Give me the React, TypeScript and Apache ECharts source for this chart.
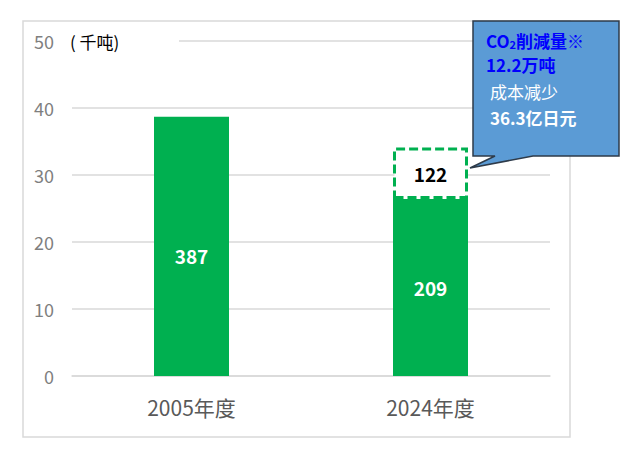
import React, { useEffect, useRef } from "react";
import * as echarts from "echarts";

const categories = ["2005年度", "2024年度"];
const emissionValues = [38.7, 26.4];
const emissionLabels = ["387", "209"];
const reductionValues: (number | string)[] = ["-", 7.7];
const reductionLabels = ["", "122"];
const yMin = 0;
const yMax = 50;
const yInterval = 10;
const unitLabel = "( 千吨)";
const calloutLines = ["12.2万吨", "成本减少", "36.3亿日元"];

const FONT = "'Noto Sans CJK SC', 'Noto Sans', sans-serif";
const GREEN = "#00b050";

export default function App() {
  const ref = useRef<HTMLDivElement>(null);
  useEffect(() => {
    document.body.style.margin = "0";
    const chart = echarts.init(ref.current!, null, { renderer: "svg" });
    chart.setOption({
      animation: false,
      backgroundColor: "#ffffff",
      textStyle: { fontFamily: FONT },
      grid: { left: 72, right: 94, top: 41, bottom: 81 },
      xAxis: {
        type: "category",
        data: categories,
        axisLine: { show: true, lineStyle: { color: "#d9d9d9", width: 1.5 } },
        axisTick: { show: false },
        axisLabel: { color: "#595959", fontSize: 21, margin: 20, fontFamily: FONT },
      },
      yAxis: {
        type: "value",
        min: yMin,
        max: yMax,
        interval: yInterval,
        axisLine: { show: false },
        axisTick: { show: false },
        splitLine: { lineStyle: { color: "#d9d9d9", width: 1.5 } },
        axisLabel: { color: "#7f7f7f", fontSize: 18, margin: 18, fontFamily: FONT },
      },
      series: [
        {
          type: "bar",
          stack: "total",
          barWidth: 75,
          data: emissionValues.map((v, i) => ({
            value: v,
            label: { offset: [0, i === 0 ? 9 : 0] },
          })),
          itemStyle: { color: GREEN },
          label: {
            show: true,
            position: "inside",
            color: "#ffffff",
            fontSize: 19,
            fontWeight: "bold",
            fontFamily: FONT,
            formatter: (p: any) => emissionLabels[p.dataIndex],
          },
        },
        {
          type: "bar",
          stack: "total",
          barWidth: 75,
          data: reductionValues,
          itemStyle: {
            color: "#ffffff",
            borderColor: GREEN,
            borderWidth: 3,
            borderType: [9, 4],
          },
          label: {
            show: true,
            position: "inside",
            color: "#000000",
            fontSize: 19,
            fontWeight: "bold",
            fontFamily: FONT,
            formatter: (p: any) => reductionLabels[p.dataIndex],
          },
        },
      ],
      graphic: [
        {
          type: "rect",
          shape: { x: 23, y: 21, width: 547, height: 416 },
          style: { fill: "none", stroke: "#d9d9d9", lineWidth: 1.5 },
          silent: true,
          z: 1,
        },
        {
          type: "rect",
          shape: { x: 61, y: 29, width: 118, height: 24 },
          style: { fill: "#ffffff" },
          z: 10,
        },
        {
          type: "text",
          x: 70,
          y: 41,
          style: {
            text: unitLabel,
            fill: "#000000",
            fontSize: 17,
            fontFamily: FONT,
            verticalAlign: "middle",
          },
          z: 11,
        },
        {
          type: "polygon",
          shape: {
            points: [
              [473, 21],
              [619, 21],
              [619, 156],
              [533, 156],
              [470, 168],
              [495, 156],
              [473, 156],
            ],
          },
          style: { fill: "#5b9bd5", stroke: "#2e3b4a", lineWidth: 1.5 },
          z: 20,
        },
        {
          type: "text",
          x: 486,
          y: 40,
          style: {
            text: "{a|CO}{b|2}{a|削減量※}",
            verticalAlign: "middle",
            rich: {
              a: { fontSize: 17, fontWeight: "bold", fill: "#0000ff", fontFamily: FONT },
              b: { fontSize: 11, fontWeight: "bold", fill: "#0000ff", fontFamily: FONT, padding: [7, 0, 0, 0] },
            },
          },
          z: 21,
        },
        {
          type: "text",
          x: 486,
          y: 64,
          style: {
            text: calloutLines[0],
            fill: "#0000ff",
            fontSize: 17,
            fontWeight: "bold",
            fontFamily: FONT,
            verticalAlign: "middle",
          },
          z: 21,
        },
        {
          type: "text",
          x: 490,
          y: 91,
          style: {
            text: calloutLines[1],
            fill: "#ffffff",
            fontSize: 17,
            fontFamily: FONT,
            verticalAlign: "middle",
          },
          z: 21,
        },
        {
          type: "text",
          x: 490,
          y: 117,
          style: {
            text: calloutLines[2],
            fill: "#ffffff",
            fontSize: 17,
            fontWeight: "bold",
            fontFamily: FONT,
            verticalAlign: "middle",
          },
          z: 21,
        },
      ],
    });
    return () => chart.dispose();
  }, []);
  return <div ref={ref} style={{ width: 644, height: 457 }} />;
}
